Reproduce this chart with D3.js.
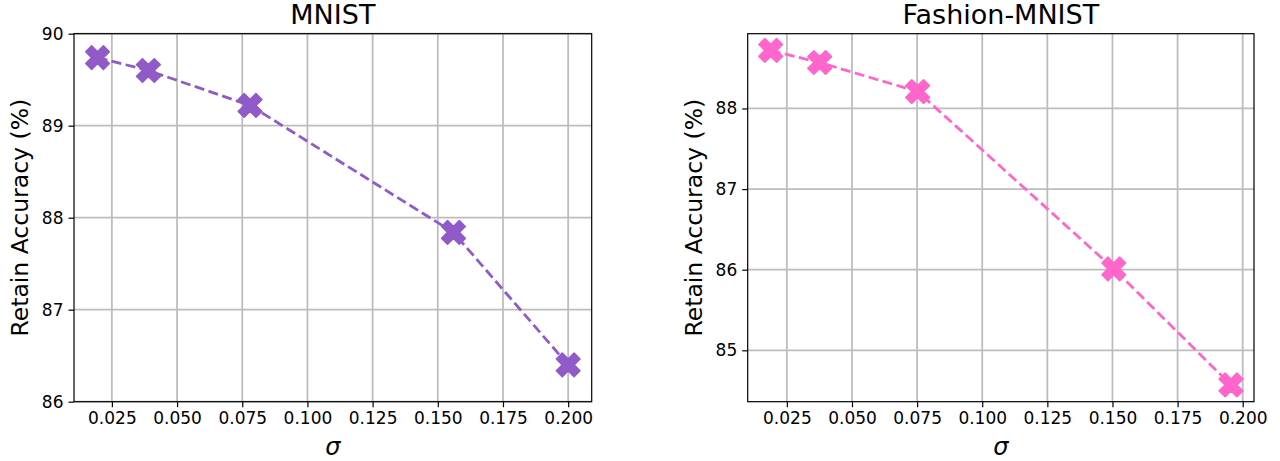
<!DOCTYPE html>
<html>
<head>
<meta charset="utf-8">
<script src="https://cdn.jsdelivr.net/npm/d3@7"></script>
<style>
  body { margin: 0; background: #fff; }
  svg { display: block; font-family: "DejaVu Sans", sans-serif; }
</style>
</head>
<body>
<div id="chart"></div>
<script>
// data
const mnistSigma = [0.0195, 0.039, 0.078, 0.156, 0.2];
const mnistAcc = [89.74, 89.60, 89.22, 87.84, 86.40];
const fashionSigma = [0.0188, 0.0376, 0.0752, 0.1505, 0.1955];
const fashionAcc = [88.72, 88.57, 88.21, 86.01, 84.57];
const xTicks = [0.025, 0.05, 0.075, 0.1, 0.125, 0.15, 0.175, 0.2];
const mnistYTicks = [86, 87, 88, 89, 90];
const fashionYTicks = [85, 86, 87, 88];

const width = 1280;
const height = 461;

const svg = d3.select("#chart")
  .append("svg")
  .attr("width", width)
  .attr("height", height);

// filled "X" marker like matplotlib's, size = marker size in px
const xMarker = {
  draw(context, size) {
    const pts = [[-1, -3], [1, -3], [1, -1], [3, -1], [3, 1], [1, 1],
                 [1, 3], [-1, 3], [-1, 1], [-3, 1], [-3, -1], [-1, -1]];
    const c = Math.SQRT1_2;
    pts.forEach(([x, y], i) => {
      const px = (x - y) * c * size / 6;
      const py = (x + y) * c * size / 6;
      if (i === 0) context.moveTo(px, py); else context.lineTo(px, py);
    });
    context.closePath();
  }
};

function withMargin(vals) {
  const [lo, hi] = d3.extent(vals);
  const m = (hi - lo) * 0.05;
  return [lo - m, hi + m];
}

function panel(opts) {
  const { left, right, top, bottom, title, sigma, acc, yTicks, yLim, color } = opts;

  const x = d3.scaleLinear().domain(withMargin(sigma)).range([left, right]);
  const y = d3.scaleLinear().domain(yLim || withMargin(acc)).range([bottom, top]);

  const g = svg.append("g");

  // grid
  g.append("g").selectAll("line")
    .data(xTicks)
    .enter().append("line")
    .attr("x1", d => x(d)).attr("x2", d => x(d))
    .attr("y1", top).attr("y2", bottom)
    .attr("stroke", "#bdbdbd").attr("stroke-width", 1.8);
  g.append("g").selectAll("line")
    .data(yTicks)
    .enter().append("line")
    .attr("x1", left).attr("x2", right)
    .attr("y1", d => y(d)).attr("y2", d => y(d))
    .attr("stroke", "#bdbdbd").attr("stroke-width", 1.8);

  // axes
  const xAxis = d3.axisBottom(x).tickValues(xTicks).tickFormat(d3.format(".3f"))
    .tickSize(5.5).tickPadding(5);
  const yAxis = d3.axisLeft(y).tickValues(yTicks).tickFormat(d3.format("d"))
    .tickSize(5.5).tickPadding(5);

  g.append("g")
    .attr("transform", `translate(0,${bottom})`)
    .call(xAxis)
    .call(a => a.select(".domain").remove())
    .call(a => a.selectAll("text").attr("font-size", "17px").attr("fill", "#000")
      .style("font-family", "DejaVu Sans, sans-serif"))
    .call(a => a.selectAll("line").attr("stroke", "#000").attr("stroke-width", 1.2));

  g.append("g")
    .attr("transform", `translate(${left},0)`)
    .call(yAxis)
    .call(a => a.select(".domain").remove())
    .call(a => a.selectAll("text").attr("font-size", "17px").attr("fill", "#000")
      .style("font-family", "DejaVu Sans, sans-serif"))
    .call(a => a.selectAll("line").attr("stroke", "#000").attr("stroke-width", 1.2));

  // frame
  g.append("rect")
    .attr("x", left).attr("y", top)
    .attr("width", right - left).attr("height", bottom - top)
    .attr("fill", "none").attr("stroke", "#000").attr("stroke-width", 1.2);

  const pts = sigma.map((s, i) => ({ s, a: acc[i] }));

  const line = d3.line().x(d => x(d.s)).y(d => y(d.a));
  g.append("path")
    .datum(pts)
    .attr("d", line)
    .attr("fill", "none")
    .attr("stroke", color)
    .attr("stroke-width", 2.8)
    .attr("stroke-dasharray", "10,4.5");

  g.append("g").selectAll("path")
    .data(pts)
    .enter().append("path")
    .attr("d", d3.symbol().type(xMarker).size(25))
    .attr("transform", d => `translate(${x(d.s)},${y(d.a)})`)
    .attr("fill", color)
    .attr("stroke", color)
    .attr("stroke-width", 1.6)
    .attr("stroke-linejoin", "round");

  // titles and labels
  const cx = (left + right) / 2;
  g.append("text")
    .attr("x", cx).attr("y", 24)
    .attr("text-anchor", "middle")
    .attr("font-size", "27px")
    .text(title);

  g.append("text")
    .attr("x", cx).attr("y", 455)
    .attr("text-anchor", "middle")
    .attr("font-size", "24px")
    .attr("font-style", "italic")
    .text("σ");

  g.append("text")
    .attr("transform", `translate(${left - 46},${(top + bottom) / 2}) rotate(-90)`)
    .attr("text-anchor", "middle")
    .attr("font-size", "23.5px")
    .text("Retain Accuracy (%)");
}

panel({
  left: 74, right: 591.7, top: 33.7, bottom: 401.7,
  title: "MNIST", sigma: mnistSigma, acc: mnistAcc,
  yTicks: mnistYTicks, yLim: [86, 90], color: "#905ac8"
});

panel({
  left: 747.7, right: 1254, top: 33.7, bottom: 401.7,
  title: "Fashion-MNIST", sigma: fashionSigma, acc: fashionAcc,
  yTicks: fashionYTicks, yLim: null, color: "#ff66cc"
});
</script>
</body>
</html>
